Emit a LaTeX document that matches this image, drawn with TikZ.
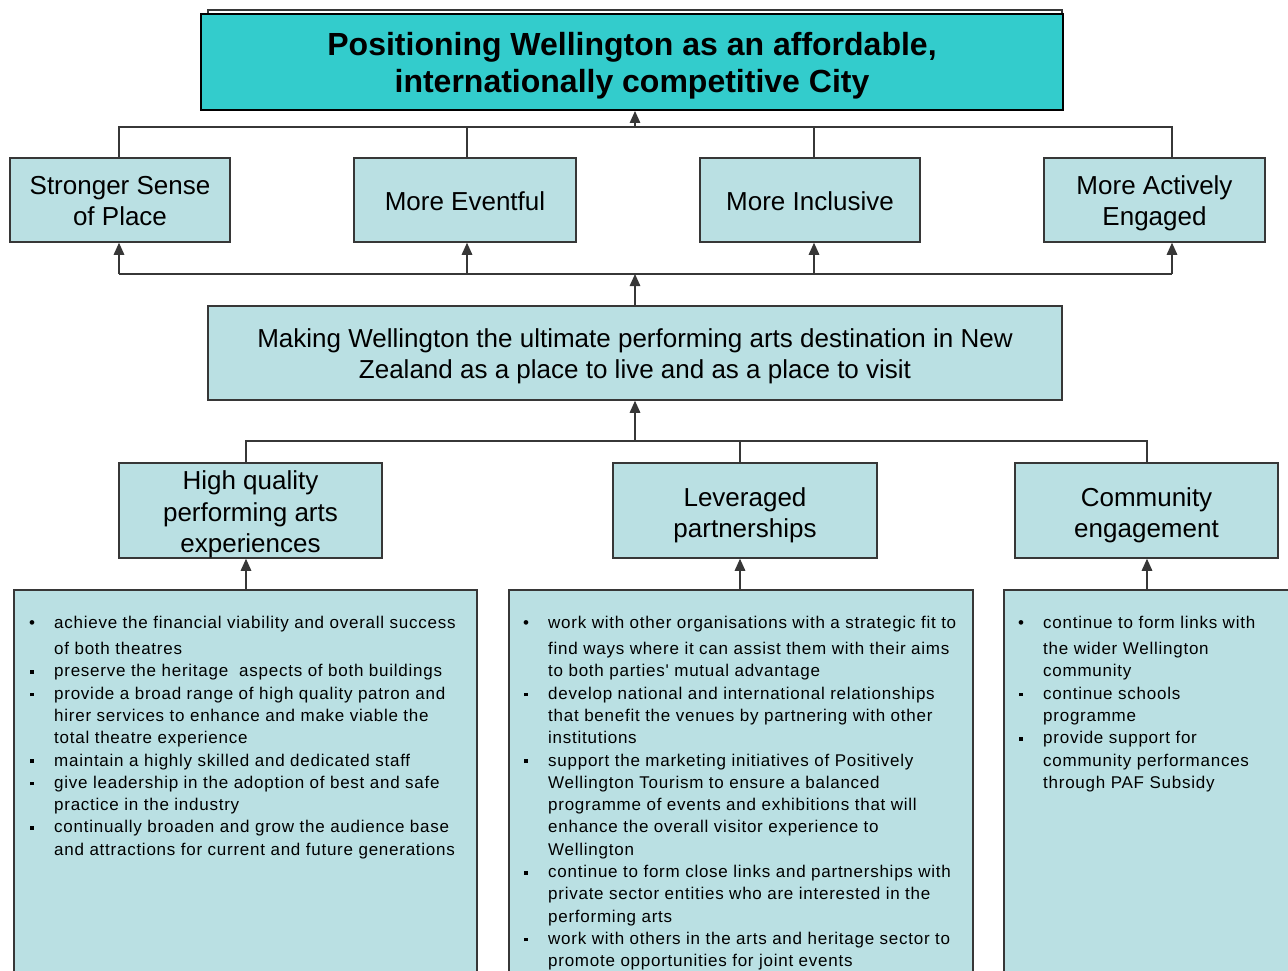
\documentclass[tikz,border=0pt]{standalone}
\usepackage{fontspec}
\setmainfont{Liberation Sans}
\newfontfamily\bodyfont[LetterSpace=4.4]{Liberation Sans}
\usetikzlibrary{arrows.meta}
\definecolor{tealbox}{RGB}{51,204,204}
\definecolor{lblue}{RGB}{186,224,227}
\definecolor{edge}{RGB}{55,55,55}
\newcommand\bul{\makebox[25pt][l]{\textbullet}}
\newcommand\sqb{\makebox[25pt][l]{\hspace{1pt}\rule[3pt]{3.6pt}{3.6pt}}}
\newcommand\ind{\hspace*{25pt}}
\newcommand\bst{\rule[-5pt]{0pt}{30pt}}
\newcommand\bsthree{\rule[-5pt]{0pt}{31.5pt}}
\newcommand\bstwo{\rule[-5pt]{0pt}{33pt}}
\newcommand\tst{\rule[-4pt]{0pt}{34pt}}
\begin{document}
\begin{tikzpicture}[x=1pt,y=-1pt,
  box/.style={draw=edge, line width=1.5pt, fill=lblue, inner sep=0pt, align=center,
    font=\fontsize{26}{31.5}\selectfont},
  conn/.style={draw=edge, line width=1.3pt},
  arr/.style={conn, -{Triangle[length=12pt,width=10.5pt]}},
  listbox/.style={draw=edge, line width=1.5pt, fill=lblue, inner sep=0pt},
  listtext/.style={anchor=north west, inner sep=0pt, align=left,
    font={\bodyfont\fontsize{17}{22.3}\selectfont}}]
\useasboundingbox (0,0) rectangle (1288,971);

% top
\node[draw=edge, line width=1.2pt, minimum width=854, minimum height=96, inner sep=0pt] (back) at (635,58) {};
\node[box, fill=tealbox, draw=black, line width=2pt, minimum width=862, minimum height=96,
  font=\bfseries\fontsize{32}{37}\selectfont] (top) at (632,62)
  {\tst Positioning Wellington as an affordable,\\\tst internationally competitive City};

% row 2
\node[box, minimum width=220, minimum height=84] (s1) at (120,200) {\bst Stronger Sense\\\bst of Place};
\node[box, minimum width=222, minimum height=84] (s2) at (465,200) {\bst More Eventful};
\node[box, minimum width=220, minimum height=84] (s3) at (810,200) {\bst More Inclusive};
\node[box, minimum width=221, minimum height=84] (s4) at (1154.5,200) {\bst More Actively\\\bst Engaged};

% middle
\node[box, minimum width=854, minimum height=94] (mid) at (635,353)
  {\bst Making Wellington the ultimate performing arts destination in New\\\bst Zealand as a place to live and as a place to visit};

% row 3
\node[box, minimum width=263, minimum height=95] (h1) at (250.5,510.5) {\bsthree High quality\\performing arts\\experiences};
\node[box, minimum width=264, minimum height=95] (h2) at (745,510.5) {\bstwo Leveraged\\\bst partnerships};
\node[box, minimum width=263, minimum height=95] (h3) at (1146.5,510.5) {\bstwo Community\\\bst engagement};

% list boxes
\node[listbox, minimum width=463, minimum height=400] (l1) at (245.5,790) {};
\node[listbox, minimum width=464, minimum height=400] (l2) at (741,790) {};
\node[listbox, minimum width=300, minimum height=400] (l3) at (1154,790) {};

\node[listtext] (t1) at (29,616) {%
\bul achieve the financial viability and overall success\\[3.7pt]
\ind of both theatres\\
\sqb preserve the heritage\ \ aspects of both buildings\\
\sqb provide a broad range of high quality patron and\\
\ind hirer services to enhance and make viable the\\
\ind total theatre experience\\
\sqb maintain a highly skilled and dedicated staff\\
\sqb give leadership in the adoption of best and safe\\
\ind practice in the industry\\
\sqb continually broaden and grow the audience base\\
\ind and attractions for current and future generations};

\node[listtext] (t2) at (523,616) {%
\bul work with other organisations with a strategic fit to\\[3.7pt]
\ind find ways where it can assist them with their aims\\
\ind to both parties' mutual advantage\\
\sqb develop national and international relationships\\
\ind that benefit the venues by partnering with other\\
\ind institutions\\
\sqb support the marketing initiatives of Positively\\
\ind Wellington Tourism to ensure a balanced\\
\ind programme of events and exhibitions that will\\
\ind enhance the overall visitor experience to\\
\ind Wellington\\
\sqb continue to form close links and partnerships with\\
\ind private sector entities who are interested in the\\
\ind performing arts\\
\sqb work with others in the arts and heritage sector to\\
\ind promote opportunities for joint events};

\node[listtext] (t3) at (1018,616) {%
\bul continue to form links with\\[3.7pt]
\ind the wider Wellington\\
\ind community\\
\sqb continue schools\\
\ind programme\\
\sqb provide support for\\
\ind community performances\\
\ind through PAF Subsidy};

% connector coordinates
\coordinate (x1) at (119,0);
\coordinate (x2) at (467,0);
\coordinate (x3) at (814,0);
\coordinate (x4) at (1172,0);
\coordinate (xc) at (635,0);
\coordinate (z1) at (246,0);
\coordinate (z2) at (740,0);
\coordinate (z3) at (1147,0);
\coordinate (ybt) at (0,127);
\coordinate (ybb) at (0,274);
\coordinate (yb3) at (0,441);

% top bus
\draw[conn] (s1.north -| x1) |- (x4 |- ybt) -- (s4.north -| x4);
\draw[conn] (s2.north -| x2) -- (x2 |- ybt);
\draw[conn] (s3.north -| x3) -- (x3 |- ybt);
\draw[arr] (xc |- ybt) -- (top.south -| xc);

% bottom bus
\draw[conn] (x1 |- ybb) -- (x4 |- ybb);
\draw[arr] (x1 |- ybb) -- (s1.south -| x1);
\draw[arr] (x2 |- ybb) -- (s2.south -| x2);
\draw[arr] (x3 |- ybb) -- (s3.south -| x3);
\draw[arr] (x4 |- ybb) -- (s4.south -| x4);
\draw[arr] (mid.north -| xc) -- (xc |- ybb);

% third bus
\draw[conn] (h1.north -| z1) |- (z3 |- yb3) -- (h3.north -| z3);
\draw[conn] (h2.north -| z2) -- (z2 |- yb3);
\draw[arr] (xc |- yb3) -- (mid.south -| xc);

% list arrows
\draw[arr] (l1.north -| z1) -- (h1.south -| z1);
\draw[arr] (l2.north -| z2) -- (h2.south -| z2);
\draw[arr] (l3.north -| z3) -- (h3.south -| z3);
\end{tikzpicture}
\end{document}
